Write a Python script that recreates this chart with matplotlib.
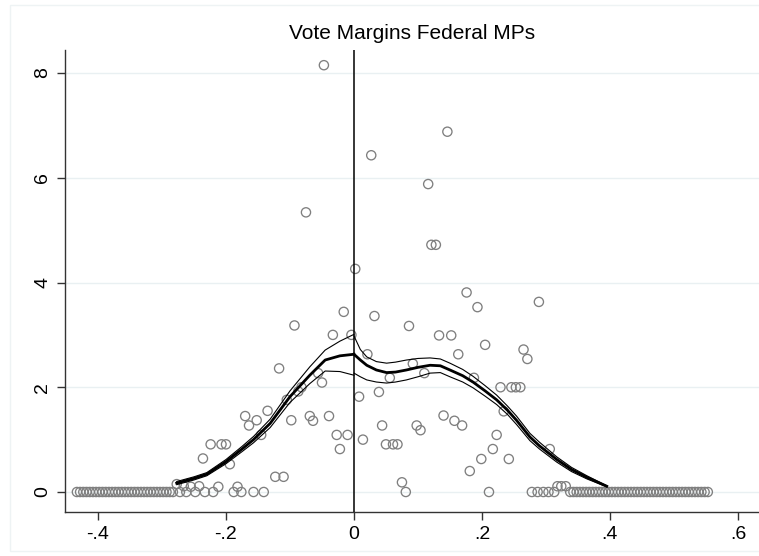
import matplotlib
matplotlib.use("Agg")
import matplotlib.pyplot as plt
from matplotlib.patches import Rectangle

# binned densities (bin centres / density)
left_zero_x = [-0.433, -0.428, -0.423, -0.418, -0.413, -0.408, -0.403, -0.398,
               -0.393, -0.388, -0.383, -0.378, -0.373, -0.368, -0.363, -0.358,
               -0.353, -0.348, -0.343, -0.338, -0.333, -0.328, -0.323, -0.318,
               -0.313, -0.308, -0.303, -0.298, -0.293, -0.288, -0.283]
right_zero_x = [0.338, 0.343, 0.348, 0.353, 0.358, 0.363, 0.368, 0.373, 0.378,
                0.383, 0.388, 0.393, 0.398, 0.403, 0.408, 0.413, 0.418, 0.423,
                0.428, 0.433, 0.438, 0.443, 0.448, 0.453, 0.458, 0.463, 0.468,
                0.473, 0.478, 0.483, 0.488, 0.493, 0.498, 0.503, 0.508, 0.513,
                0.518, 0.523, 0.528, 0.533, 0.538, 0.543, 0.548, 0.553]

mid_x = [-0.277, -0.272, -0.266, -0.262, -0.255, -0.248, -0.242, -0.236, -0.233,
         -0.224, -0.220, -0.212, -0.207, -0.200, -0.194, -0.188, -0.182, -0.176,
         -0.170, -0.164, -0.157, -0.152, -0.145, -0.141, -0.135, -0.123, -0.117,
         -0.110, -0.105, -0.098, -0.093, -0.087, -0.082, -0.075, -0.069, -0.064,
         -0.056, -0.050, -0.047, -0.039, -0.033, -0.027, -0.022, -0.016, -0.010,
         -0.004,
         0.002, 0.008, 0.014, 0.021, 0.027, 0.032, 0.039, 0.044, 0.050, 0.056,
         0.061, 0.068, 0.075, 0.081, 0.086, 0.092, 0.098, 0.104, 0.110, 0.116,
         0.121, 0.128, 0.133, 0.140, 0.146, 0.152, 0.157, 0.163, 0.169, 0.176,
         0.181, 0.1875, 0.193, 0.199, 0.205, 0.211, 0.217, 0.223, 0.229, 0.234,
         0.242, 0.246, 0.253, 0.260, 0.265, 0.271, 0.278, 0.287, 0.289, 0.296,
         0.304, 0.306, 0.313, 0.318, 0.324, 0.331]
mid_y = [0.15, 0.0, 0.11, 0.0, 0.10, 0.0, 0.11, 0.64, 0.0,
         0.91, 0.0, 0.10, 0.91, 0.91, 0.53, 0.0, 0.10, 0.0,
         1.45, 1.27, 0.0, 1.37, 1.09, 0.0, 1.55, 0.29, 2.36,
         0.29, 1.76, 1.37, 3.18, 1.92, 2.00, 5.34, 1.45, 1.36,
         2.27, 2.09, 8.15, 1.45, 3.00, 1.09, 0.82, 3.44, 1.09,
         3.00,
         4.26, 1.82, 1.00, 2.63, 6.43, 3.36, 1.91, 1.27, 0.91, 2.18,
         0.91, 0.91, 0.185, 0.0, 3.17, 2.45, 1.27, 1.18, 2.27, 5.88,
         4.72, 4.72, 2.99, 1.46, 6.88, 2.99, 1.36, 2.63, 1.27, 3.81,
         0.40, 2.18, 3.53, 0.63, 2.81, 0.0, 0.82, 1.09, 2.00, 1.54,
         0.63, 2.00, 2.00, 2.00, 2.72, 2.54, 0.0, 0.0, 3.63, 0.0,
         0.0, 0.82, 0.0, 0.11, 0.11, 0.11]

# local linear fit and confidence band, left of cutoff
fit_lx = [-0.277, -0.25, -0.23, -0.2, -0.175, -0.157, -0.131, -0.1, -0.069,
          -0.045, -0.022, 0.0]
fit_l = [0.17, 0.26, 0.34, 0.58, 0.82, 1.0, 1.31, 1.82, 2.23, 2.52, 2.60, 2.63]
fit_l_hi = [0.20, 0.29, 0.37, 0.62, 0.87, 1.06, 1.39, 1.93, 2.39, 2.71, 2.88, 3.01]
fit_l_lo = [0.14, 0.23, 0.31, 0.54, 0.77, 0.94, 1.23, 1.71, 2.07, 2.31, 2.30, 2.23]

# right of cutoff
fit_rx = [0.0, 0.01, 0.02, 0.035, 0.051, 0.065, 0.082, 0.1, 0.119, 0.135, 0.15,
          0.17, 0.186, 0.205, 0.223, 0.24, 0.254, 0.275, 0.29, 0.317, 0.34,
          0.364, 0.395]
fit_r = [2.63, 2.52, 2.42, 2.33, 2.28, 2.29, 2.33, 2.38, 2.42, 2.41, 2.33, 2.22,
         2.10, 1.93, 1.76, 1.56, 1.37, 1.05, 0.88, 0.62, 0.43, 0.28, 0.11]
fit_r_hi = [2.98, 2.72, 2.58, 2.49, 2.46, 2.48, 2.52, 2.55, 2.56, 2.54, 2.46,
            2.34, 2.21, 2.03, 1.85, 1.64, 1.45, 1.12, 0.95, 0.67, 0.47, 0.31, 0.12]
fit_r_lo = [2.27, 2.20, 2.14, 2.10, 2.08, 2.10, 2.14, 2.20, 2.27, 2.28, 2.20,
            2.10, 1.99, 1.83, 1.67, 1.48, 1.29, 0.98, 0.82, 0.57, 0.39, 0.25, 0.10]

xticks = [-0.4, -0.2, 0, 0.2, 0.4, 0.6]
xlabels = ["-.4", "-.2", "0", ".2", ".4", ".6"]
yticks = [0, 2, 4, 6, 8]

plt.rcParams['font.family'] = ['Liberation Sans', 'DejaVu Sans']

fig = plt.figure(figsize=(7.59, 5.56), dpi=100)
ax = fig.add_axes([65 / 759, 44 / 556, 694 / 759, 462 / 556])

grid_c = '#e9f0f2'
for yv in yticks:
    ax.axhline(yv, color=grid_c, lw=1.0, zorder=0)

mk = dict(marker='o', s=44, facecolors='none', edgecolors='#7f7f7f',
          linewidths=0.95, zorder=2)
ax.scatter(left_zero_x, [0] * len(left_zero_x), **mk)
ax.scatter(right_zero_x, [0] * len(right_zero_x), **mk)
ax.scatter(mid_x, mid_y, **mk)

for xs, c, lo, hi in [(fit_lx, fit_l, fit_l_lo, fit_l_hi),
                      (fit_rx, fit_r, fit_r_lo, fit_r_hi)]:
    ax.plot(xs, hi, color='black', lw=0.8, zorder=3)
    ax.plot(xs, lo, color='black', lw=0.8, zorder=3)
    ax.plot(xs, c, color='black', lw=2.0, zorder=4)

ax.axvline(0, color='black', lw=1.1, zorder=5)

ax.set_xlim(-0.4516, 0.633)
ax.set_ylim(-0.382, 8.44)
ax.set_xticks(xticks)
ax.set_xticklabels(xlabels)
ax.set_yticks(yticks)
ax.set_yticklabels([str(v) for v in yticks], rotation=90, va='center')
ax.tick_params(axis='both', labelsize=14, length=6, width=1,
               color='#333333', pad=4)

for side in ['top', 'right']:
    ax.spines[side].set_visible(False)
for side in ['left', 'bottom']:
    ax.spines[side].set_color('#333333')
    ax.spines[side].set_linewidth(1.0)

ax.set_title("Vote Margins Federal MPs", fontsize=15, pad=8)

# light outer border of the graph region
fig.add_artist(Rectangle((10 / 759, 5 / 556), 2.0, 546 / 556,
                         transform=fig.transFigure, fill=False,
                         edgecolor='#eef3f4', lw=1.0, zorder=0))

fig.savefig("out.png", dpi=100)
